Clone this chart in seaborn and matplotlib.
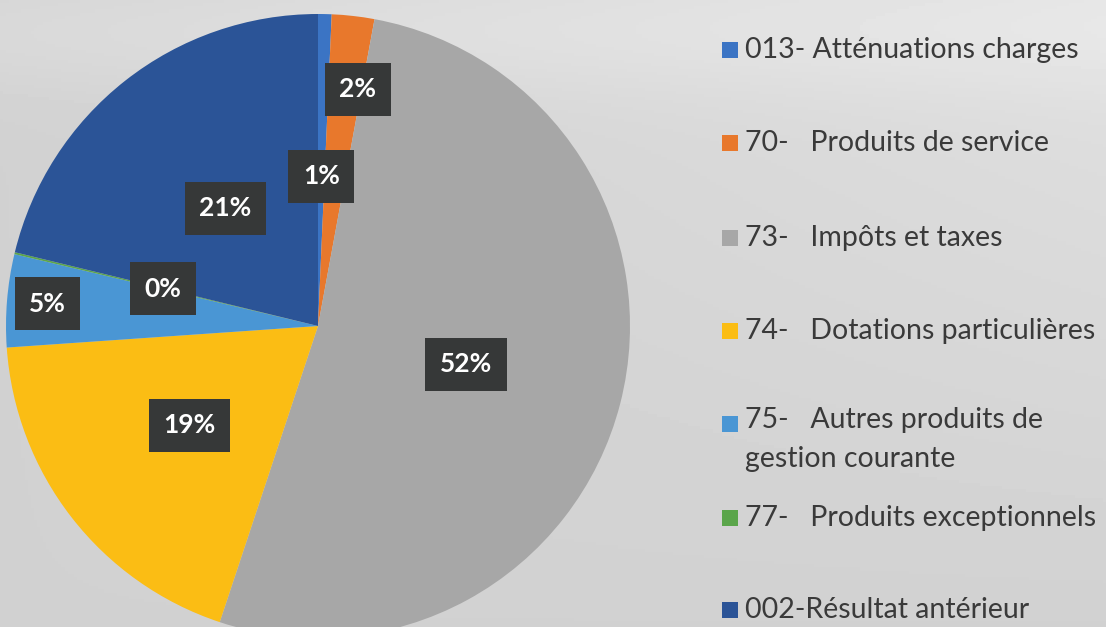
import numpy as np
import matplotlib
matplotlib.use("Agg")
import matplotlib.pyplot as plt
import seaborn as sns
from matplotlib.patches import Rectangle

# ---- data ----
categories = ["013- Atténuations charges",
              "70-   Produits de service",
              "73-   Impôts et taxes",
              "74-   Dotations particulières",
              "75-   Autres produits de\ngestion courante",
              "77-   Produits exceptionnels",
              "002-Résultat antérieur"]
values = [0.7, 2.2, 52.2, 18.8, 4.8, 0.1, 21.2]
pct_labels = ["1%", "2%", "52%", "19%", "5%", "0%", "21%"]

# ---- style ----
colors = ["#3b74c4", "#e8782c", "#a7a7a7", "#fbbd14", "#4a96d4", "#5aa54a", "#2b5497"]
label_dist = [0.48, 0.77, 0.49, 0.52, 0.87, 0.51, 0.48]
label_shift = [0, 3, 0, 0, 0, 0, 0]   # degrees of extra rotation for label placement
legend_y_px = [50, 143, 238, 331, 424, 518, 610]

sns.set_theme(style="white")
plt.rcParams['font.family'] = ['Lato', 'DejaVu Sans']

W, H = 1106, 627
fig = plt.figure(figsize=(W / 100, H / 100), dpi=100)

# background (scanned paper look)
bg = fig.add_axes([0, 0, 1, 1])
yy, xx = np.mgrid[0:1:200j, 0:1:360j]
grad = 0.82 + 0.06 * xx * (1 - yy) + 0.03 * np.exp(-((yy - 0.05) ** 2) / 0.01)
bg.imshow(grad, cmap="gray", vmin=0, vmax=1, extent=[0, 1, 0, 1], aspect="auto")
bg.set_axis_off()

# pie axes
cx, cy, r = 318, 326, 312
ax = fig.add_axes([(cx - r) / W, (H - cy - r) / H, 2 * r / W, 2 * r / H])
wedges, _ = ax.pie(values, colors=colors, startangle=90, counterclock=False,
                   radius=1, wedgeprops=dict(linewidth=0))
ax.set_xlim(-1, 1)
ax.set_ylim(-1, 1)
ax.set_axis_off()

for w, lab, d, sh in zip(wedges, pct_labels, label_dist, label_shift):
    ang = np.deg2rad((w.theta1 + w.theta2) / 2 - sh)
    x, y = d * np.cos(ang), d * np.sin(ang)
    ax.text(x, y, lab, ha="center", va="center", color="white", fontsize=19,
            fontweight="bold",
            bbox=dict(boxstyle="square,pad=0.55", fc="#363838", ec="none"))

# legend
for col, lab, ypx in zip(colors, categories, legend_y_px):
    fig.patches.append(Rectangle((722 / W, (H - ypx - 8) / H), 16 / W, 16 / H,
                                 transform=fig.transFigure, fc=col, ec="none"))
    if "\n" in lab:
        fig.text(745 / W, (H - ypx + 17) / H, lab, ha="left", va="top",
                 fontsize=20.5, color="#3a3a3a", linespacing=1.6)
    else:
        fig.text(745 / W, (H - ypx) / H, lab, ha="left", va="center",
                 fontsize=20.5, color="#3a3a3a")

fig.savefig("out.png", dpi=100)
